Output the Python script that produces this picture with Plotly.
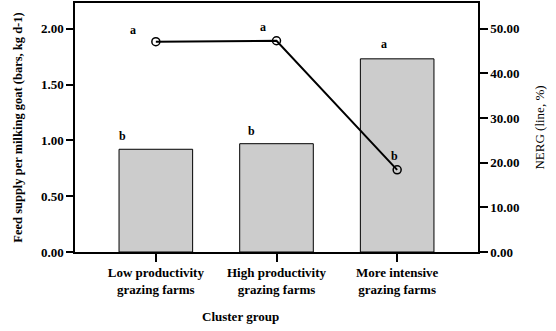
import plotly.graph_objects as go

# Cluster groups and their measured values
clusters = ["Low productivity<br>grazing farms",
            "High productivity<br>grazing farms",
            "More intensive<br>grazing farms"]
feed_supply = [0.92, 0.97, 1.73]      # kg d-1 (bars, left axis)
nerg = [47.1, 47.3, 18.4]             # % (line, right axis)
feed_letters = ["b", "b", "a"]
nerg_letters = ["a", "a", "b"]

x_idx = list(range(len(clusters)))
FONT = "Liberation Serif, Times New Roman, serif"

fig = go.Figure()
fig.add_trace(go.Bar(
    x=x_idx, y=feed_supply, width=0.61,
    marker=dict(color="#cccccc", line=dict(color="black", width=1)),
    yaxis="y", showlegend=False,
))
fig.add_trace(go.Scatter(
    x=x_idx, y=nerg, mode="lines+markers", yaxis="y2",
    line=dict(color="black", width=2),
    marker=dict(symbol="circle-open", size=8, color="black",
                line=dict(width=1.5, color="black")),
    showlegend=False,
))

# significance letters, nudged left of each mark
bar_letter_dx = [-33, -25, -13]
line_letter_dx = [-23, -14, -3]
annotations = []
for i, (v, t) in enumerate(zip(feed_supply, feed_letters)):
    annotations.append(dict(x=i, y=v, xref="x", yref="y", text=f"<b>{t}</b>",
                            showarrow=False, xshift=bar_letter_dx[i],
                            yshift=13 if t == "b" else 15,
                            font=dict(family=FONT, size=12, color="black")))
for i, (v, t) in enumerate(zip(nerg, nerg_letters)):
    annotations.append(dict(x=i, y=v, xref="x", yref="y2", text=f"<b>{t}</b>",
                            showarrow=False, xshift=line_letter_dx[i],
                            yshift=12 if i == 0 else 14,
                            font=dict(family=FONT, size=12, color="black")))

W, H = 556, 331
ML, MR, MT, MB = 75, 78, 1, 79
pw = W - ML - MR
ph = H - MT - MB
annotations.append(dict(x=(240 - ML) / pw, y=-(317 - MT - ph) / ph,
                        xref="paper", yref="paper", xanchor="center",
                        yanchor="middle", text="<b>Cluster group</b>", showarrow=False,
                        font=dict(family=FONT, size=13, color="black")))

axis_common = dict(showline=True, linecolor="black", linewidth=1.5,
                   ticks="outside", tickcolor="black", tickwidth=2,
                   showgrid=False, zeroline=False,
                   tickfont=dict(family=FONT, size=13, color="black"))

fig.update_layout(
    width=W, height=H,
    margin=dict(l=ML, r=MR, t=MT, b=MB),
    paper_bgcolor="white", plot_bgcolor="white",
    font=dict(family=FONT, color="black"),
    xaxis=dict(axis_common, tickvals=x_idx,
               ticktext=[f"<b>{c}</b>" for c in clusters],
               range=[-0.67, 2.67], ticklen=8, mirror=True),
    yaxis=dict(axis_common, range=[0, 2.23], tickvals=[0, 0.5, 1.0, 1.5, 2.0],
               ticktext=["<b>0.00</b>", "<b>0.50</b>", "<b>1.00</b>", "<b>1.50</b>", "<b>2.00</b>"],
               ticklen=7,
               title=dict(text="<b>Feed supply per milking goat (bars, kg d-1)</b>",
                          font=dict(family=FONT, size=12.5, color="black"), standoff=16)),
    yaxis2=dict(axis_common, overlaying="y", side="right", range=[0, 55.75],
                tickvals=[0, 10, 20, 30, 40, 50],
                ticktext=[f"<b>{v:.2f}</b>" for v in [0, 10, 20, 30, 40, 50]],
                ticklen=8,
                title=dict(text="NERG (line, %)",
                           font=dict(family=FONT, size=13, color="black"), standoff=16)),
    annotations=annotations,
    bargap=0.4,
)

fig.write_html("out.html")
